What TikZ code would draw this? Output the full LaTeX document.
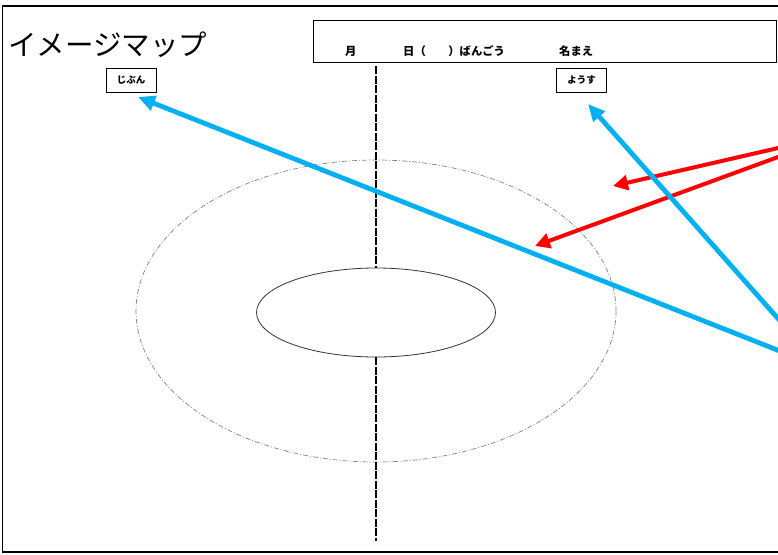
\documentclass[tikz,border=0pt]{standalone}
\usepackage{fontspec}
\setmainfont{Noto Sans CJK JP}
\usetikzlibrary{arrows.meta,shapes.geometric}
\definecolor{cblue}{RGB}{0,176,240}
\definecolor{cred}{RGB}{255,0,0}
\tikzset{
  lbl/.style={draw, line width=0.8pt, inner sep=0pt, minimum width=50pt, minimum height=24pt, font=\fontsize{9.5}{10}\selectfont\bfseries},
  hdr/.style={inner sep=0pt, anchor=base west, font=\fontsize{11.3}{12}\selectfont\bfseries},
  redarrow/.style={cred, line width=4pt, -{Triangle[length=15pt,width=15pt]}},
  bluearrow/.style={cblue, line width=4.8pt, -{Triangle[length=17pt,width=15pt]}},
  axisline/.style={line width=1.2pt, dash pattern=on 8pt off 1.5pt},
}
\begin{document}
\begin{tikzpicture}[x=1pt,y=-1pt]
\useasboundingbox (0,0) rectangle (778,554);
\begin{scope}
\clip (0,0) rectangle (778,554);
% outer frame
\draw[line width=1.6pt] (2.5,6) rectangle (790,552);
% header box
\node[draw, line width=1pt, minimum width=463pt, minimum height=42pt, inner sep=0pt, anchor=north west] (header) at (313,20) {};
\node[hdr] (tmonth) at (345,55) {月};
\node[hdr] (tday) at (403,55) {日（　　）ばんごう};
\node[hdr] (tname) at (559,55) {名まえ};
% title
\node[inner sep=0pt, anchor=west, font=\fontsize{28.5}{30}\selectfont] (title) at (8,45) {イメージマップ};
% label boxes
\node[lbl] (jibun) at (131,80) {じぶん};
\node[lbl] (yousu) at (581.5,80) {ようす};
% ellipses
\node[draw=gray, line width=0.7pt, dash pattern=on 5pt off 2pt on 1pt off 2pt, ellipse, minimum width=480pt, minimum height=302pt, inner sep=0pt] (outer) at (376,311) {};
\node[draw=black!80, line width=0.8pt, ellipse, minimum width=239pt, minimum height=89pt, inner sep=0pt] (inner) at (376,312.5) {};
\coordinate (axtop) at (376,66);
\coordinate (axbot) at (376,541);
\draw[axisline] (axtop) -- (inner.north);
\draw[axisline] (inner.south) -- (axbot);
% arrows
\coordinate (r1s) at (800,143);
\coordinate (r1e) at (613,186);
\coordinate (r2s) at (800,149);
\coordinate (r2e) at (535,246);
\draw[redarrow] (r1s) -- (r1e);
\draw[redarrow] (r2s) -- (r2e);
\coordinate (b1s) at (800,359);
\coordinate (b1e) at (138,97);
\coordinate (b2s) at (797,340);
\coordinate (b2e) at (588,104);
\draw[bluearrow] (b1s) -- (b1e);
\draw[bluearrow] (b2s) -- (b2e);
\end{scope}
\end{tikzpicture}
\end{document}
